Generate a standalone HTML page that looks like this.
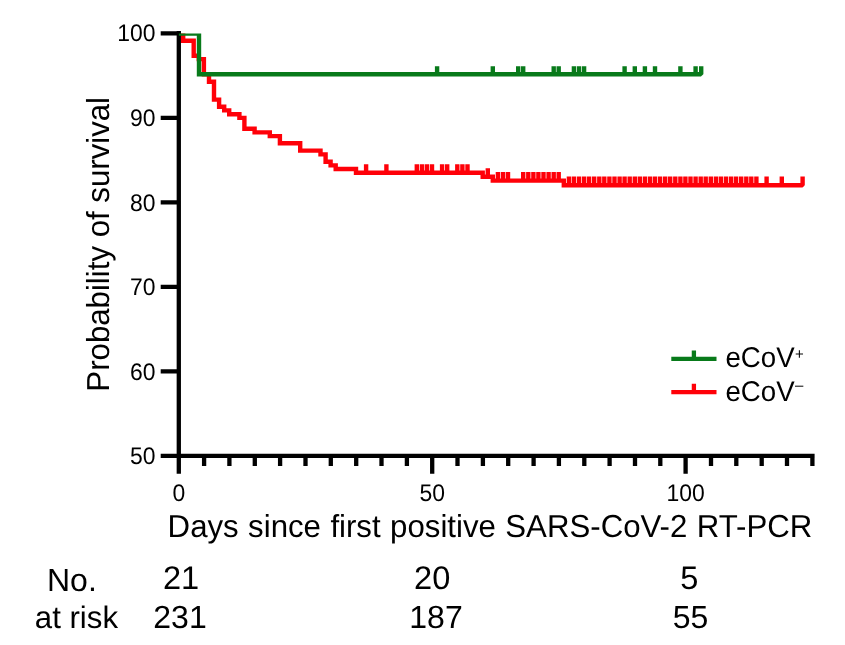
<!DOCTYPE html><html><head><meta charset="utf-8"><title>Kaplan-Meier</title>
<style>html,body{margin:0;padding:0;background:#fff;}body{width:845px;height:645px;overflow:hidden;}svg{display:block;will-change:transform;text-rendering:geometricPrecision;font-family:"Liberation Sans",sans-serif;fill:#000;}</style></head><body>
<svg width="845" height="645" viewBox="0 0 845 645">
<rect width="845" height="645" fill="#fff"/>
<text transform="translate(155.6 41.4) scale(0.955 1)" font-size="24.0" text-anchor="end" >100</text>
<text transform="translate(155.6 126.0) scale(0.955 1)" font-size="24.0" text-anchor="end" >90</text>
<text transform="translate(155.6 210.5) scale(0.955 1)" font-size="24.0" text-anchor="end" >80</text>
<text transform="translate(155.6 295.0) scale(0.955 1)" font-size="24.0" text-anchor="end" >70</text>
<text transform="translate(155.6 379.5) scale(0.955 1)" font-size="24.0" text-anchor="end" >60</text>
<text transform="translate(155.6 464.1) scale(0.955 1)" font-size="24.0" text-anchor="end" >50</text>
<text transform="translate(178.8 501.2) scale(0.955 1)" font-size="24.0" text-anchor="middle" >0</text>
<text transform="translate(432.2 501.2) scale(0.955 1)" font-size="24.0" text-anchor="middle" >50</text>
<text transform="translate(685.6 501.2) scale(0.955 1)" font-size="24.0" text-anchor="middle" >100</text>
<text transform="translate(167.6 536.8) scale(0.981 1)" font-size="31.8" text-anchor="start" word-spacing="0.8">Days since first positive SARS-CoV-2 RT-PCR</text>
<text transform="translate(109.3 244.3) rotate(-90) scale(0.981 1)" font-size="31.8" text-anchor="middle">Probability of survival</text>
<text transform="translate(71.9 590.6) scale(1.000 1)" font-size="32.0" text-anchor="middle" >No.</text>
<text transform="translate(76.4 627.5) scale(1.000 1)" font-size="31.2" text-anchor="middle" >at risk</text>
<text transform="translate(181.0 589.0) scale(1.000 1)" font-size="32.6" text-anchor="middle" >21</text>
<text transform="translate(180.0 627.6) scale(1.000 1)" font-size="32.0" text-anchor="middle" >231</text>
<text transform="translate(432.2 589.0) scale(1.000 1)" font-size="32.6" text-anchor="middle" >20</text>
<text transform="translate(436.0 627.6) scale(1.000 1)" font-size="32.0" text-anchor="middle" >187</text>
<text transform="translate(689.4 589.0) scale(1.000 1)" font-size="32.6" text-anchor="middle" >5</text>
<text transform="translate(690.6 627.6) scale(1.000 1)" font-size="32.0" text-anchor="middle" >55</text>
<g fill="none" stroke-width="4.3" stroke-linejoin="miter">
<clipPath id="c"><rect x="178.4" y="33.6" width="700" height="430"/></clipPath>
<g clip-path="url(#c)" stroke-width="4.4">
<path d="M178.8 33.3 H183.2 V40.7 H193.7 V55.8 H198.8 V59.1 H203.9 V74.2 H209.0 V81.7 H214.0 V99.6 H219.1 V106.7 H224.2 V110.4 H229.2 V114.2 H239.4 V117.9 H244.4 V128.8 H254.6 V132.4 H269.8 V136.1 H279.9 V143.3 H300.2 V150.6 H320.5 V154.4 H325.6 V161.7 H330.6 V165.4 H335.7 V169.0 H356.0 V172.8 H482.7 V176.8 H492.8 V180.6 H563.8 V185.2 H802.6 v-8.6M366.1 172.8 v-8.6M386.4 172.8 v-8.6M416.8 172.8 v-8.6M421.9 172.8 v-8.6M426.9 172.8 v-8.6M432.0 172.8 v-8.6M442.1 172.8 v-8.6M447.2 172.8 v-8.6M457.3 172.8 v-8.6M462.4 172.8 v-8.6M467.5 172.8 v-8.6M487.8 176.8 v-8.6M497.9 180.6 v-8.6M503.0 180.6 v-8.6M508.0 180.6 v-8.6M523.2 180.6 v-8.6M528.3 180.6 v-8.6M533.4 180.6 v-8.6M538.4 180.6 v-8.6M543.5 180.6 v-8.6M548.6 180.6 v-8.6M553.7 180.6 v-8.6M558.7 180.6 v-8.6M568.9 185.2 v-8.6M573.9 185.2 v-8.6M579.0 185.2 v-8.6M584.1 185.2 v-8.6M589.1 185.2 v-8.6M594.2 185.2 v-8.6M599.3 185.2 v-8.6M604.3 185.2 v-8.6M609.4 185.2 v-8.6M614.5 185.2 v-8.6M619.6 185.2 v-8.6M624.6 185.2 v-8.6M629.7 185.2 v-8.6M634.8 185.2 v-8.6M639.8 185.2 v-8.6M644.9 185.2 v-8.6M650.0 185.2 v-8.6M655.0 185.2 v-8.6M660.1 185.2 v-8.6M665.2 185.2 v-8.6M670.2 185.2 v-8.6M675.3 185.2 v-8.6M680.4 185.2 v-8.6M685.4 185.2 v-8.6M690.5 185.2 v-8.6M695.6 185.2 v-8.6M700.7 185.2 v-8.6M705.7 185.2 v-8.6M710.8 185.2 v-8.6M715.9 185.2 v-8.6M720.9 185.2 v-8.6M726.0 185.2 v-8.6M731.1 185.2 v-8.6M736.1 185.2 v-8.6M741.2 185.2 v-8.6M746.3 185.2 v-8.6M751.3 185.2 v-8.6M756.4 185.2 v-8.6M766.6 185.2 v-8.6M781.8 185.2 v-8.6" stroke="#ff0008"/>
<path d="M804.84 185.20 H805.84 V188.40 H802.64 V187.40 Z" fill="#fff" stroke="none"/>
</g>
<path d="M178.8 31.1 V458.1 M160.7 455.9 H814.6 M160.7 33.3 H178.8 M160.7 117.8 H178.8 M160.7 202.3 H178.8 M160.7 286.9 H178.8 M160.7 371.4 H178.8 M178.8 455.9 V473.8 M204.1 455.9 V466.0 M229.4 455.9 V466.0 M254.8 455.9 V466.0 M280.1 455.9 V466.0 M305.5 455.9 V466.0 M330.8 455.9 V466.0 M356.2 455.9 V466.0 M381.5 455.9 V466.0 M406.9 455.9 V466.0 M432.2 455.9 V473.8 M457.5 455.9 V466.0 M482.9 455.9 V466.0 M508.2 455.9 V466.0 M533.6 455.9 V466.0 M558.9 455.9 V466.0 M584.3 455.9 V466.0 M609.6 455.9 V466.0 M635.0 455.9 V466.0 M660.3 455.9 V466.0 M685.6 455.9 V473.8 M711.0 455.9 V466.0 M736.3 455.9 V466.0 M761.7 455.9 V466.0 M787.0 455.9 V466.0 M812.4 455.9 V466.0" stroke="#000"/>
<g clip-path="url(#c)" stroke-width="4.4">
<path d="M178.8 33.5 H199.0 V74.2 H701.2 v-7.9M437.1 74.2 v-7.9M492.8 74.2 v-7.9M518.2 74.2 v-7.9M523.2 74.2 v-7.9M553.7 74.2 v-7.9M558.7 74.2 v-7.9M573.9 74.2 v-7.9M579.0 74.2 v-7.9M584.1 74.2 v-7.9M624.6 74.2 v-7.9M634.8 74.2 v-7.9M644.9 74.2 v-7.9M655.0 74.2 v-7.9M680.4 74.2 v-7.9M695.6 74.2 v-7.9" stroke="#087a1a"/>
<path d="M703.36 74.15 H704.36 V77.35 H701.16 V76.35 Z" fill="#fff" stroke="none"/>
</g>
<path d="M671.3 358.8 H716.5 M693.9 358.8 V350.4" stroke="#087a1a"/>
<path d="M671.3 392.2 H716.5 M693.9 392.2 V383.7" stroke="#ff0008"/>
</g>
<text transform="translate(725.5 367.2) scale(0.970 1)" font-size="28.5" text-anchor="start" >eCoV</text>
<text transform="translate(725.5 400.6) scale(0.970 1)" font-size="28.5" text-anchor="start" >eCoV</text>
<text transform="translate(799.3 358.7) scale(1.000 1)" font-size="15.0" text-anchor="middle" >+</text>
<text transform="translate(799.2 390.4) scale(1.000 1)" font-size="15.0" text-anchor="middle" >–</text>
</svg></body></html>
